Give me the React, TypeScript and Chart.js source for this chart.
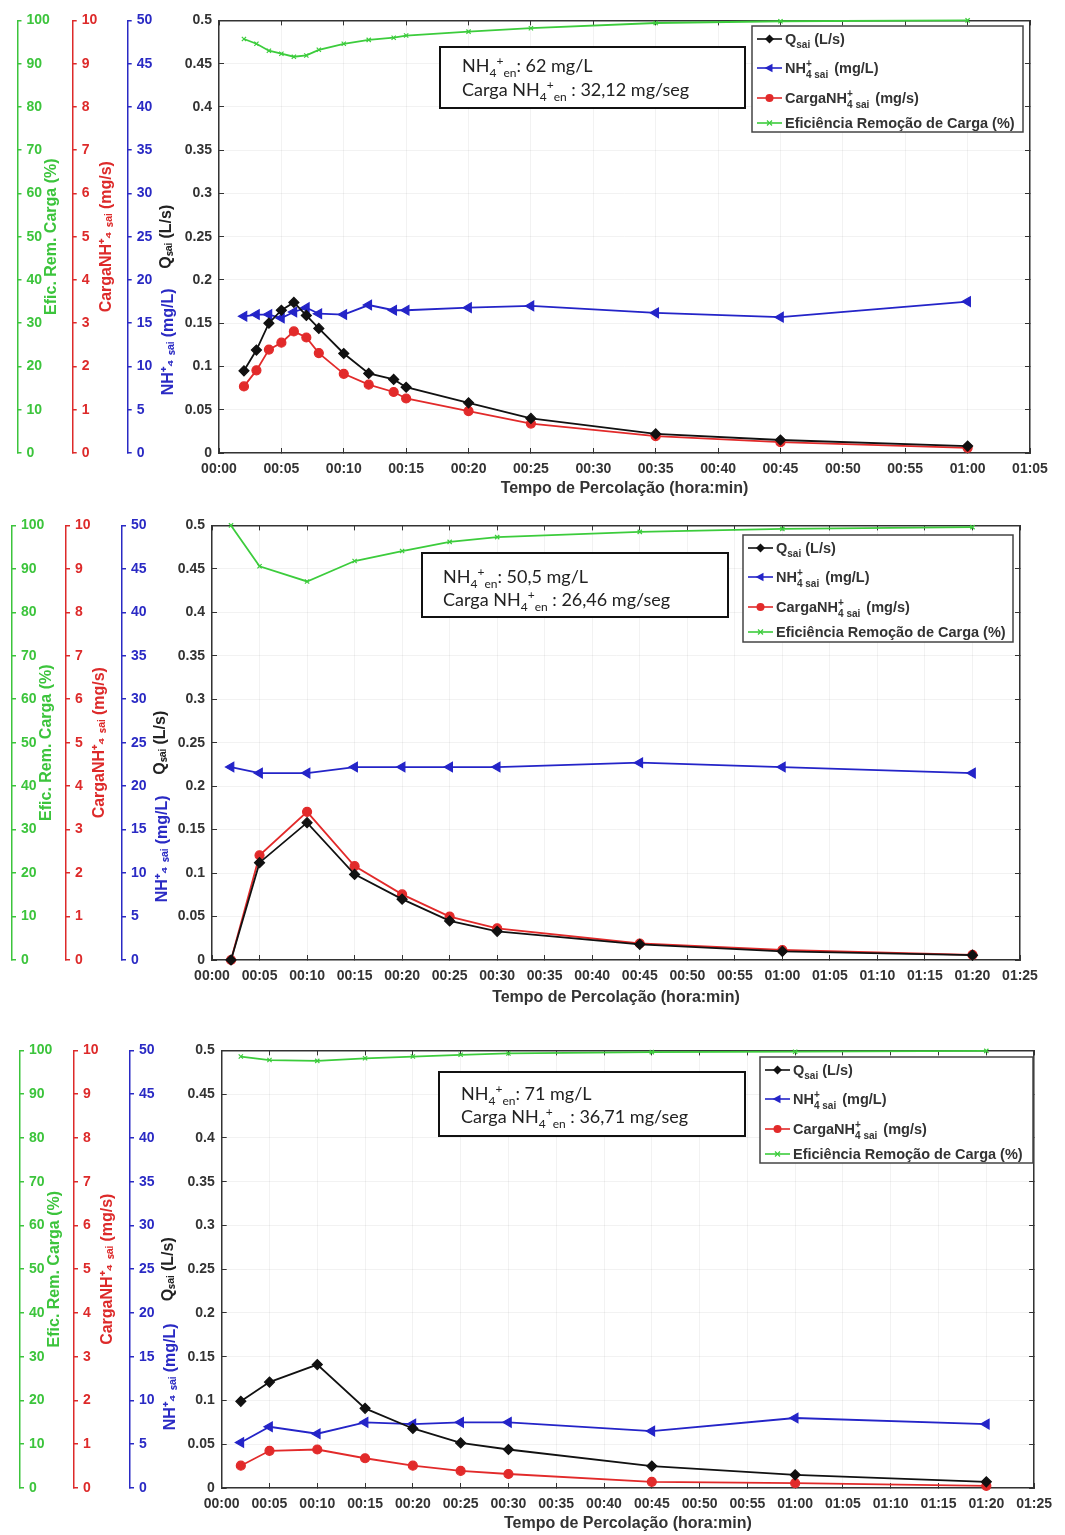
import React, { useEffect, useRef } from 'react';
import { Chart, registerables } from 'chart.js';

Chart.register(...registerables);

// ---------------- data ----------------
const P1_TIME = [2, 3, 4, 5, 6, 7, 8, 10, 12, 14, 15, 20, 25, 35, 45, 60];
const P1_Q = [0.095, 0.119, 0.15, 0.165, 0.174, 0.159, 0.144, 0.115, 0.092, 0.085, 0.076, 0.058, 0.04, 0.022, 0.015, 0.008];
const P1_NH = [15.8, 16.0, 16.0, 15.6, 16.3, 16.8, 16.1, 16.0, 17.1, 16.5, 16.5, 16.8, 17.0, 16.2, 15.7, 17.5];
const P1_CARGA = [1.54, 1.91, 2.39, 2.55, 2.81, 2.67, 2.31, 1.83, 1.58, 1.41, 1.26, 0.97, 0.68, 0.39, 0.25, 0.12];
const P1_EFF = [95.7, 94.6, 93.0, 92.3, 91.6, 91.9, 93.2, 94.6, 95.5, 96.0, 96.5, 97.4, 98.2, 99.4, 99.8, 100];

const P2_TIME = [2, 5, 10, 15, 20, 25, 30, 45, 60, 80];
const P2_Q = [0.0, 0.112, 0.158, 0.0985, 0.07, 0.045, 0.033, 0.018, 0.01, 0.0055];
const P2_NH = [22.2, 21.5, 21.5, 22.2, 22.2, 22.2, 22.2, 22.7, 22.2, 21.5];
const P2_CARGA = [0.0, 2.41, 3.41, 2.16, 1.51, 1.0, 0.73, 0.38, 0.23, 0.12];
const P2_EFF = [100, 90.6, 87.1, 91.8, 94.1, 96.2, 97.3, 98.5, 99.2, 99.6];

const P3_TIME = [2, 5, 10, 15, 20, 25, 30, 45, 60, 80];
const P3_Q = [0.099, 0.121, 0.141, 0.091, 0.068, 0.0515, 0.044, 0.025, 0.015, 0.007];
const P3_NH = [5.2, 7.0, 6.2, 7.5, 7.3, 7.5, 7.5, 6.5, 8.0, 7.3];
const P3_CARGA = [0.51, 0.85, 0.88, 0.68, 0.51, 0.39, 0.32, 0.14, 0.11, 0.05];
const P3_EFF = [98.6, 97.8, 97.6, 98.2, 98.6, 99.0, 99.3, 99.6, 99.7, 99.9];

const SERIES_LABELS = [
  'Q_{sai} (L/s)',
  'NH~{+|4 sai} (mg/L)',
  'CargaNH~{+|4 sai} (mg/s)',
  'Eficiência Remoção de Carga (%)',
];
const X_TITLE = 'Tempo de Percolação (hora:min)';
const Q_TITLE = 'Qₛₐᵢ (L/s)';
const NH_TITLE = '             NH⁺₄ ₛₐᵢ (mg/L)';
const CARGA_TITLE = 'CargaNH⁺₄ ₛₐᵢ (mg/s)';
const EFF_TITLE = 'Efic. Rem. Carga (%)';

const P1_NOTE = ['NH_{4}^{+}_{en}: 62 mg/L', 'Carga NH_{4}^{+}_{en} : 32,12 mg/seg'];
const P2_NOTE = ['NH_{4}^{+}_{en}: 50,5 mg/L', 'Carga NH_{4}^{+}_{en} : 26,46 mg/seg'];
const P3_NOTE = ['NH_{4}^{+}_{en}: 71 mg/L', 'Carga NH_{4}^{+}_{en} : 36,71 mg/seg'];

// ---------------- style ----------------
const FONT = "'Liberation Sans', Arial, Helvetica, sans-serif";
const BOX_FONT = "Lato, 'Open Sans', sans-serif";
const BLACK = '#111111';
const BLUE = '#2424c8';
const RED = '#e22a2a';
const GREEN = '#3ccc3c';
const AX_GREEN = '#3cc43c';
const AX_RED = '#dd2a2a';
const AX_BLUE = '#2a2ac4';
const FRAME = '#333333';
const TEXT = '#333333';
const W = 1065;

// ---------------- rich text ----------------
type Seg = { kind: 'n' | 'sub' | 'sup' | 'stack'; t: string; sup?: string; sub?: string };
function parseRich(s: string): Seg[] {
  const out: Seg[] = [];
  const re = /([_^~])\{([^}]*)\}/g;
  let last = 0;
  let m: RegExpExecArray | null;
  while ((m = re.exec(s))) {
    if (m.index > last) out.push({ kind: 'n', t: s.slice(last, m.index) });
    if (m[1] === '_') out.push({ kind: 'sub', t: m[2] });
    else if (m[1] === '^') out.push({ kind: 'sup', t: m[2] });
    else {
      const [a, b] = m[2].split('|');
      out.push({ kind: 'stack', t: '', sup: a, sub: b });
    }
    last = re.lastIndex;
  }
  if (last < s.length) out.push({ kind: 'n', t: s.slice(last) });
  return out;
}
function drawRich(ctx: CanvasRenderingContext2D, s: string, x: number, y: number, size: number, weight: string, family: string, color: string) {
  const big = `${weight} ${size}px ${family}`;
  const ss = Math.round(size * 0.68);
  const small = `${weight} ${ss}px ${family}`;
  ctx.fillStyle = color;
  ctx.textAlign = 'left';
  ctx.textBaseline = 'alphabetic';
  for (const g of parseRich(s)) {
    if (g.kind === 'n') {
      ctx.font = big;
      ctx.fillText(g.t, x, y);
      x += ctx.measureText(g.t).width;
    } else if (g.kind === 'sub') {
      ctx.font = small;
      ctx.fillText(g.t, x, y + size * 0.3);
      x += ctx.measureText(g.t).width;
    } else if (g.kind === 'sup') {
      ctx.font = small;
      ctx.fillText(g.t, x, y - size * 0.38);
      x += ctx.measureText(g.t).width;
    } else {
      ctx.font = small;
      ctx.fillText(g.sup || '', x, y - size * 0.42);
      ctx.fillText(g.sub || '', x, y + size * 0.36);
      x += Math.max(ctx.measureText(g.sup || '').width, ctx.measureText(g.sub || '').width) + 2;
    }
  }
  return x;
}

function drawMarker(ctx: CanvasRenderingContext2D, style: string, x: number, y: number, color: string) {
  ctx.fillStyle = color;
  ctx.strokeStyle = color;
  ctx.beginPath();
  if (style === 'rectRot') {
    const r = 4.5;
    ctx.moveTo(x, y - r); ctx.lineTo(x + r, y); ctx.lineTo(x, y + r); ctx.lineTo(x - r, y); ctx.closePath(); ctx.fill();
  } else if (style === 'triangle') {
    const r = 5;
    ctx.moveTo(x - r, y); ctx.lineTo(x + r * 0.6, y - r * 0.85); ctx.lineTo(x + r * 0.6, y + r * 0.85); ctx.closePath(); ctx.fill();
  } else if (style === 'circle') {
    ctx.arc(x, y, 4, 0, Math.PI * 2); ctx.fill();
  } else {
    ctx.lineWidth = 1.2;
    ctx.moveTo(x - 2.5, y - 2.5); ctx.lineTo(x + 2.5, y + 2.5); ctx.moveTo(x + 2.5, y - 2.5); ctx.lineTo(x - 2.5, y + 2.5); ctx.stroke();
  }
}

const decorPlugin = {
  id: 'decor',
  afterDraw(chart: any, _args: any, opts: any) {
    const ctx: CanvasRenderingContext2D = chart.ctx;
    const { note, legend } = opts;
    ctx.save();
    // note box
    ctx.fillStyle = '#ffffff';
    ctx.fillRect(note.x0, note.y0, note.x1 - note.x0, note.y1 - note.y0);
    ctx.lineWidth = 2;
    ctx.strokeStyle = '#111111';
    ctx.strokeRect(note.x0, note.y0, note.x1 - note.x0, note.y1 - note.y0);
    note.lines.forEach((ln: string, i: number) => {
      drawRich(ctx, ln, note.textX, note.lineY[i] + 6, 18, 'normal', BOX_FONT, '#222222');
    });
    // legend
    ctx.fillStyle = '#ffffff';
    ctx.fillRect(legend.x0, legend.y0, legend.x1 - legend.x0, legend.y1 - legend.y0);
    ctx.lineWidth = 1.5;
    ctx.strokeStyle = '#444444';
    ctx.strokeRect(legend.x0, legend.y0, legend.x1 - legend.x0, legend.y1 - legend.y0);
    const rows = [13, 42, 72, 97];
    chart.data.datasets.forEach((ds: any, i: number) => {
      const y = legend.y0 + rows[i];
      const x0 = legend.x0;
      ctx.strokeStyle = ds.borderColor;
      ctx.lineWidth = 1.6;
      ctx.beginPath();
      ctx.moveTo(x0 + 5, y);
      ctx.lineTo(x0 + 30, y);
      ctx.stroke();
      drawMarker(ctx, ds.pointStyle, x0 + 17.5, y, ds.borderColor);
      drawRich(ctx, ds.label, x0 + 33, y + 5, 14.5, 'bold', FONT, TEXT);
    });
    ctx.restore();
  },
};

type Note = { x0: number; y0: number; x1: number; y1: number; textX: number; lineY: number[]; lines: string[] };
type Box = { x0: number; y0: number; x1: number; y1: number };
type PanelCfg = {
  top: number; height: number;
  plotLeft: number; plotRight: number; plotTop: number; plotBottom: number;
  axisX: [number, number, number];
  xMax: number; xH: number;
  time: number[]; q: number[]; nh: number[]; carga: number[]; eff: number[];
  note: Note; legend: Box;
};

const PANELS: PanelCfg[] = [
  {
    top: 0, height: 505, plotLeft: 219, plotRight: 1030, plotTop: 18, plotBottom: 453,
    axisX: [17.5, 72.7, 127.7], xMax: 65, xH: 45,
    time: P1_TIME, q: P1_Q, nh: P1_NH, carga: P1_CARGA, eff: P1_EFF,
    note: { x0: 440, y0: 47, x1: 745, y1: 108, textX: 462, lineY: [66, 90], lines: P1_NOTE },
    legend: { x0: 752, y0: 26, x1: 1023, y1: 132 },
  },
  {
    top: 505, height: 510, plotLeft: 212, plotRight: 1020, plotTop: 20, plotBottom: 455,
    axisX: [12, 66, 122], xMax: 85, xH: 47,
    time: P2_TIME, q: P2_Q, nh: P2_NH, carga: P2_CARGA, eff: P2_EFF,
    note: { x0: 422, y0: 48, x1: 728, y1: 112, textX: 443, lineY: [72, 95], lines: P2_NOTE },
    legend: { x0: 743, y0: 30, x1: 1013, y1: 137 },
  },
  {
    top: 1030, height: 505, plotLeft: 221.7, plotRight: 1043, plotTop: 18, plotBottom: 458,
    axisX: [20, 74, 130], xMax: 85, xH: 45,
    time: P3_TIME, q: P3_Q, nh: P3_NH, carga: P3_CARGA, eff: P3_EFF,
    note: { x0: 439, y0: 42, x1: 745, y1: 106, textX: 461, lineY: [64, 87], lines: P3_NOTE },
    legend: { x0: 760, y0: 27, x1: 1033, y1: 133 },
  },
];

const pad2 = (n: number) => String(n).padStart(2, '0');
const fmtTime = (v: number) => `${pad2(Math.floor(v / 60))}:${pad2(Math.round(v % 60))}`;

function buildConfig(p: PanelCfg): any {
  const [gx, rx, bx] = p.axisX;
  const pts = (vals: number[]) => p.time.map((t, i) => ({ x: t, y: vals[i] }));
  const tickFont = { family: FONT, size: 14, weight: 'bold' };
  const titleFont = { family: FONT, size: 16, weight: 'bold' };
  const half = 9.6;
  const frameBorder = { color: FRAME, width: 1.5 };
  const extraAxis = (color: string, max: number, step: number, weight: number, width: number, text: string, titlePad: number, align = 'center') => ({
    type: 'linear', position: 'left', min: 0, max, weight,
    ticks: { stepSize: step, mirror: true, padding: 9, color, font: tickFont },
    grid: { drawOnChartArea: false, color, lineWidth: 1.5, tickLength: -4 },
    border: { color, width: 1.5 },
    title: { display: true, text, color, font: titleFont, align, padding: { top: titlePad, bottom: 0 } },
    afterFit: (s: any) => { s.width = width; },
  });
  const ds = (label: string, data: any[], axis: string, color: string, style: string, radius: number, rot = 0) => ({
    label, data, yAxisID: axis, borderColor: color, backgroundColor: color,
    pointStyle: style, pointRadius: radius, pointRotation: rot, pointBorderWidth: 1.2,
    borderWidth: 1.8, tension: 0, clip: false,
  });
  return {
    type: 'line',
    data: {
      datasets: [
        ds(SERIES_LABELS[0], pts(p.q), 'y', BLACK, 'rectRot', 5),
        ds(SERIES_LABELS[1], pts(p.nh), 'yNH', BLUE, 'triangle', 5.5, -90),
        ds(SERIES_LABELS[2], pts(p.carga), 'yCarga', RED, 'circle', 4.5),
        ds(SERIES_LABELS[3], pts(p.eff), 'yEff', GREEN, 'crossRot', 3),
      ],
    },
    options: {
      responsive: false,
      animation: false,
      events: [],
      layout: {
        autoPadding: false,
        padding: { left: 0, right: W - p.plotRight, top: p.plotTop, bottom: p.height - p.plotBottom - p.xH },
      },
      plugins: {
        legend: { display: false },
        tooltip: { enabled: false },
        decor: { note: p.note, legend: p.legend },
      },
      scales: {
        x: {
          type: 'linear', position: 'bottom', min: 0, max: p.xMax,
          ticks: { stepSize: 5, autoSkip: false, maxRotation: 0, callback: (v: number) => fmtTime(v), color: TEXT, font: tickFont, padding: 13 },
          grid: { color: 'rgba(0,0,0,0.05)', tickColor: FRAME, tickLength: -5, lineWidth: 1 },
          border: frameBorder,
          title: { display: true, text: X_TITLE, color: TEXT, font: titleFont, padding: { top: 0, bottom: 0 } },
          afterFit: (s: any) => { s.height = p.xH; },
        },
        xTop: {
          type: 'linear', position: 'top', min: 0, max: p.xMax,
          ticks: { stepSize: 5, display: false },
          grid: { drawOnChartArea: false, tickColor: FRAME, color: FRAME, tickLength: -5 },
          border: frameBorder,
          afterFit: (s: any) => { s.height = 0; },
        },
        y: {
          type: 'linear', position: 'left', min: 0, max: 0.5, weight: 0,
          ticks: { stepSize: 0.05, color: TEXT, font: tickFont, padding: 12, callback: (v: number) => String(Number(v.toFixed(2))) },
          grid: { color: 'rgba(0,0,0,0.05)', tickColor: FRAME, tickLength: -5, lineWidth: 1 },
          border: frameBorder,
          title: { display: true, text: Q_TITLE, color: '#222222', font: titleFont, padding: { top: 39 - half, bottom: 0 } },
          afterFit: (s: any) => { s.width = p.plotLeft - bx; },
        },
        yR: {
          type: 'linear', position: 'right', min: 0, max: 0.5,
          ticks: { stepSize: 0.05, display: false },
          grid: { drawOnChartArea: false, tickColor: FRAME, color: FRAME, tickLength: -5 },
          border: frameBorder,
          afterFit: (s: any) => { s.width = 0; },
        },
        yNH: extraAxis(AX_BLUE, 50, 5, 1, bx - rx, NH_TITLE, bx + 41 - rx - half, 'start'),
        yCarga: extraAxis(AX_RED, 10, 1, 2, rx - gx, CARGA_TITLE, rx + 33.5 - gx - half),
        yEff: extraAxis(AX_GREEN, 100, 10, 3, gx, EFF_TITLE, gx + 34.5 - half),
      },
    },
    plugins: [decorPlugin],
  };
}

function Panel({ cfg }: { cfg: PanelCfg }) {
  const ref = useRef<HTMLCanvasElement>(null);
  useEffect(() => {
    const chart = new Chart(ref.current as HTMLCanvasElement, buildConfig(cfg));
    return () => chart.destroy();
  }, [cfg]);
  return (
    <canvas
      ref={ref}
      width={W}
      height={cfg.height}
      style={{ position: 'absolute', left: 0, top: cfg.top, width: W, height: cfg.height }}
    />
  );
}

export default function App() {
  return (
    <div style={{ position: 'absolute', left: 0, top: 0, width: W, height: 1535, background: '#ffffff' }}>
      {PANELS.map((p, i) => (
        <Panel key={i} cfg={p} />
      ))}
    </div>
  );
}
